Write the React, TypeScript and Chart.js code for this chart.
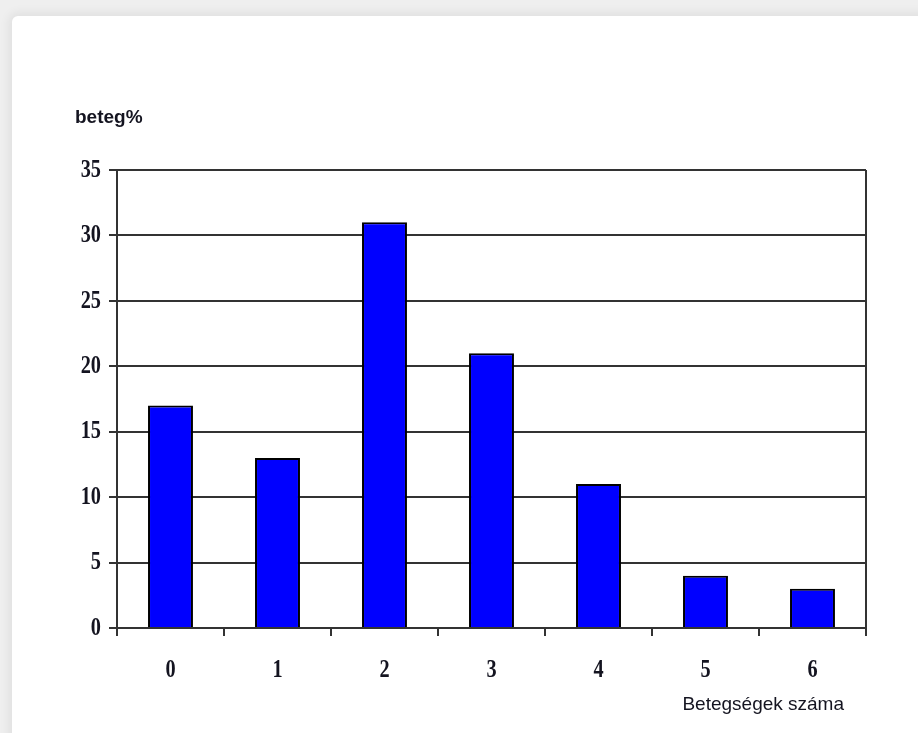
import React, { useEffect, useRef } from "react";
import { Chart, registerables } from "chart.js";

Chart.register(...registerables);

const categories: string[] = ["0", "1", "2", "3", "4", "5", "6"];
const patientShare: number[] = [17, 13, 31, 21, 11, 4, 3];
const yMin = 0;
const yMax = 35;
const yStep = 5;
const yTitle = "beteg%";
const xTitle = "Betegségek száma";

const LINE = "#333333";
const TEXT = "#141420";

const labelPlugin = {
  id: "excelLabels",
  afterDraw(chart: any) {
    const { ctx, chartArea, scales } = chart;
    const x = scales.x;
    const y = scales.y;
    ctx.save();

    // right border of the plot frame
    ctx.strokeStyle = LINE;
    ctx.lineWidth = 2;
    ctx.beginPath();
    ctx.moveTo(chartArea.right, chartArea.top);
    ctx.lineTo(chartArea.right, chartArea.bottom);
    ctx.stroke();

    ctx.fillStyle = TEXT;
    // value axis labels (condensed bold serif)
    ctx.textBaseline = "middle";
    ctx.textAlign = "right";
    ctx.font = 'bold 26px "Liberation Serif", "Times New Roman", serif';
    y.ticks.forEach((t: any) => {
      const py = y.getPixelForValue(t.value);
      ctx.save();
      ctx.translate(chartArea.left - 16, py);
      ctx.scale(0.78, 1);
      ctx.fillText(String(t.value), 0, 0);
      ctx.restore();
    });

    // category labels
    ctx.textAlign = "center";
    categories.forEach((c, i) => {
      const px = x.getPixelForValue(i);
      ctx.save();
      ctx.translate(px, chartArea.bottom + 42);
      ctx.scale(0.78, 1);
      ctx.fillText(c, 0, 0);
      ctx.restore();
    });

    // axis titles
    ctx.textBaseline = "alphabetic";
    ctx.textAlign = "left";
    ctx.font = 'bold 19px "Liberation Sans", Arial, sans-serif';
    ctx.fillText(yTitle, chartArea.left - 42, chartArea.top - 47);

    ctx.textAlign = "right";
    ctx.font = '19px "Liberation Sans", Arial, sans-serif';
    ctx.fillText(xTitle, chartArea.right - 22, chartArea.bottom + 82);

    ctx.restore();
  },
};

export default function App() {
  const canvasRef = useRef<HTMLCanvasElement | null>(null);

  useEffect(() => {
    const canvas = canvasRef.current;
    if (!canvas) return;
    const chart = new Chart(canvas, {
      type: "bar",
      data: {
        labels: categories,
        datasets: [
          {
            data: patientShare,
            backgroundColor: "#0000ff",
            borderColor: "#000000",
            borderWidth: 2,
            categoryPercentage: 1,
            barPercentage: 0.42,
          },
        ],
      },
      options: {
        responsive: false,
        animation: false,
        devicePixelRatio: 1,
        layout: { padding: { top: 170, right: 52, left: 0, bottom: 0 } },
        plugins: {
          legend: { display: false },
          tooltip: { enabled: false },
        },
        scales: {
          x: {
            offset: true,
            grid: {
              offset: true,
              drawOnChartArea: false,
              drawTicks: true,
              tickLength: 8,
              color: LINE,
              lineWidth: 2,
            },
            border: { display: true, color: LINE, width: 2 },
            ticks: { color: "rgba(0,0,0,0)", font: { size: 12 } },
            afterFit: (scale: any) => {
              scale.height = 105;
            },
          },
          y: {
            min: yMin,
            max: yMax,
            grid: {
              drawOnChartArea: true,
              drawTicks: true,
              tickLength: 8,
              color: LINE,
              lineWidth: 2,
            },
            border: { display: true, color: LINE, width: 2 },
            ticks: { stepSize: yStep, color: "rgba(0,0,0,0)", font: { size: 12 } },
            afterFit: (scale: any) => {
              scale.width = 117;
            },
          },
        },
      },
      plugins: [labelPlugin],
    });
    return () => chart.destroy();
  }, []);

  return (
    <div
      style={{
        position: "fixed",
        left: 0,
        top: 0,
        width: 918,
        height: 733,
        background: "#efefef",
        overflow: "hidden",
      }}
    >
      <div
        style={{
          position: "absolute",
          left: 12,
          top: 16,
          width: 940,
          height: 760,
          background: "#ffffff",
          borderRadius: 6,
          boxShadow: "0 0 10px 4px rgba(0,0,0,0.06)",
        }}
      />
      <canvas
        ref={canvasRef}
        width={918}
        height={733}
        style={{ position: "absolute", left: 0, top: 0, width: 918, height: 733 }}
      />
    </div>
  );
}
